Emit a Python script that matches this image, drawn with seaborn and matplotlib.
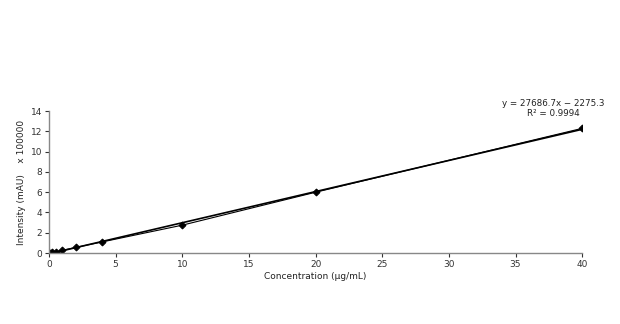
import matplotlib
matplotlib.use("Agg")
import matplotlib.pyplot as plt
import seaborn as sns
import numpy as np
import pandas as pd

concentration = [0.1, 0.25, 0.5, 1, 2, 4, 10, 20, 40]
intensity = [0.02, 0.06, 0.13, 0.27, 0.55, 1.1, 2.75, 6.0, 12.3]
x_ticks = [0, 5, 10, 15, 20, 25, 30, 35, 40]
y_ticks = [0, 2, 4, 6, 8, 10, 12, 14]
equation = "y = 27686.7x \u2212 2275.3"
r2 = "R\u00b2 = 0.9994"

sns.set_style("white")
plt.rcParams['font.family'] = ['DejaVu Sans']

df = pd.DataFrame({"c": concentration, "i": intensity})

fig = plt.figure(figsize=(6.2, 3.24), dpi=100)
ax = fig.add_axes([0.079, 0.219, 0.860, 0.438])

# trendline
sns.regplot(data=df, x="c", y="i", ax=ax, ci=None, scatter=False, truncate=True,
            line_kws=dict(color="black", lw=1.2))
# data line with diamonds
sns.lineplot(data=df, x="c", y="i", ax=ax, color="black", lw=0.8, marker="D",
             markersize=3.5, markeredgecolor="black", markerfacecolor="black")

ax.set_xlim(0, 40)
ax.set_ylim(0, 14)
ax.set_xticks(x_ticks)
ax.set_yticks(y_ticks)
ax.tick_params(axis="both", labelsize=6.5, colors="#333333", length=3, width=0.8,
               direction="out", bottom=True, left=True, pad=2)
for s in ["top", "right"]:
    ax.spines[s].set_visible(False)
for s in ["left", "bottom"]:
    ax.spines[s].set_color("#888888")
    ax.spines[s].set_linewidth(1)

ax.set_xlabel("Concentration (\u00b5g/mL)", fontsize=6.5, color="#222222", labelpad=2)
ax.set_ylabel("Intensity (mAU)    x 100000", fontsize=6.5, color="#222222", labelpad=3)

fig.text(553 / 620, 1 - 103 / 324, equation, fontsize=6.3, ha="center", va="center", color="#222222")
fig.text(553 / 620, 1 - 113 / 324, r2, fontsize=6.3, ha="center", va="center", color="#222222")

fig.savefig("out.png", dpi=100)
